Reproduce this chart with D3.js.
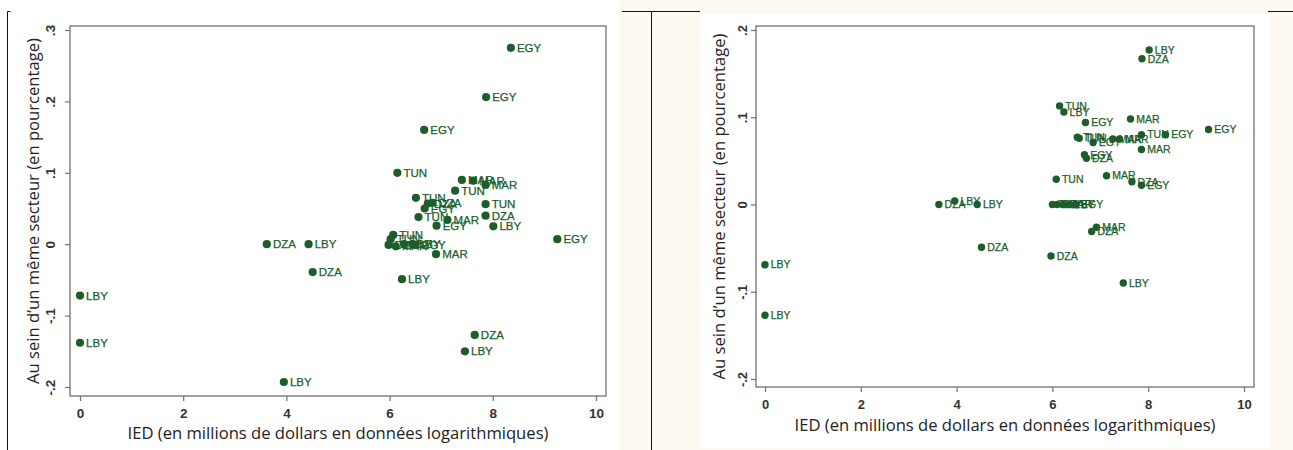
<!DOCTYPE html>
<html>
<head>
<meta charset="utf-8">
<script src="https://cdn.jsdelivr.net/npm/d3@7"></script>
<style>
  html, body { margin: 0; padding: 0; background: #fdfaf2; }
  svg { display: block; }
</style>
</head>
<body>
<svg id="chart"></svg>
<script>
// ---- data ----
const xTicks = [0, 2, 4, 6, 8, 10];
const xTickLabels = ["0", "2", "4", "6", "8", "10"];

const leftYTicks = [0.3, 0.2, 0.1, 0, -0.1, -0.2];
const leftYTickLabels = [".3", ".2", ".1", "0", "-.1", "-.2"];
const rightYTicks = [0.2, 0.1, 0, -0.1, -0.2];
const rightYTickLabels = [".2", ".1", "0", "-.1", "-.2"];

const xTitle = "IED (en millions de dollars en données logarithmiques)";
const yTitle = "Au sein d\u2019un même secteur (en pourcentage)";

// left panel
const leftCountry = ["EGY","EGY","EGY","TUN","MAR","MAR","MAR","TUN","TUN","DZA","DZA","EGY",
  "TUN","MAR","EGY","TUN","DZA","LBY","EGY","TUN","TUN","DZA","MAR","LBY","LBY","EGY",
  "MAR","DZA","LBY","DZA","LBY","LBY","LBY","DZA","LBY","LBY"];
const leftIed = [8.35,7.87,6.67,6.15,7.40,7.62,7.86,7.27,6.51,6.74,6.83,6.68,
  6.56,7.12,6.91,7.86,7.86,8.01,9.25,6.07,6.02,5.98,6.12,6.28,6.45,6.50,
  6.90,3.62,4.43,4.51,6.24,0,0,7.65,7.46,3.95];
const leftShare = [0.275,0.206,0.160,0.100,0.090,0.089,0.083,0.075,0.065,0.057,0.058,0.050,
  0.038,0.034,0.026,0.056,0.040,0.025,0.007,0.013,0.007,-0.001,-0.003,0.000,0.000,-0.001,
  -0.014,0.000,0.000,-0.039,-0.049,-0.072,-0.138,-0.127,-0.150,-0.193];

// right panel
const rightCountry = ["LBY","DZA","TUN","LBY","EGY","MAR","EGY","TUN","EGY","MAR","TUN","TUN",
  "EGY","MAR","MAR","EGY","DZA","TUN","MAR","DZA","EGY","DZA","LBY","LBY",
  "TUN","DZA","MAR","LBY","EGY","MAR","DZA","DZA","DZA","LBY","LBY","LBY"];
const rightIed = [8.02,7.87,6.15,6.24,6.69,7.63,9.26,7.86,8.36,7.86,6.52,6.56,
  6.85,7.26,7.40,6.67,6.71,6.08,7.13,7.66,7.86,3.63,3.96,4.43,
  6.00,6.10,6.22,6.35,6.48,6.92,6.82,4.52,5.97,7.48,0,0];
const rightShare = [0.177,0.167,0.113,0.106,0.094,0.098,0.086,0.080,0.080,0.063,0.077,0.076,
  0.071,0.075,0.075,0.057,0.053,0.029,0.033,0.026,0.022,0.000,0.004,0.000,
  0.000,0.000,0.000,0.000,0.000,-0.026,-0.031,-0.049,-0.059,-0.090,-0.069,-0.127];

// ---- layout ----
const width = 1293, height = 450;
const green = "#1b5e2b";
const frameColor = "#707070";

const panels = [
  {
    country: leftCountry, ied: leftIed, share: leftShare,
    yTicks: leftYTicks, yTickLabels: leftYTickLabels,
    yDomain: [-0.2, 0.3], xRange: [80, 596], yRange: [387, 30],
    frame: { x0: 70, x1: 606, y0: 26, y1: 396 },
    r: 4.1, labelSize: 11.5, tickFont: 13.5,
    yTickBase: 15, xTickBase: 22, xTitleY: 439, yTitleX: 38.5
  },
  {
    country: rightCountry, ied: rightIed, share: rightShare,
    yTicks: rightYTicks, yTickLabels: rightYTickLabels,
    yDomain: [-0.2, 0.2], xRange: [765, 1244], yRange: [379, 30],
    frame: { x0: 756, x1: 1254, y0: 26, y1: 387 },
    r: 3.7, labelSize: 10.5, tickFont: 13,
    yTickBase: 9, xTickBase: 22, xTitleY: 431, yTitleX: 725
  }
];

const svg = d3.select("#chart")
  .attr("width", width)
  .attr("height", height)
  .attr("viewBox", [0, 0, width, height]);

// page background: white chart images on a cream page
svg.append("rect").attr("x", 0).attr("y", 0).attr("width", width).attr("height", height).attr("fill", "#fdfaf2");
svg.append("rect").attr("x", 0).attr("y", 0).attr("width", 620).attr("height", height).attr("fill", "#ffffff");
svg.append("rect").attr("x", 700).attr("y", 14).attr("width", 570).attr("height", 434).attr("fill", "#ffffff");

// page rules
const rules = svg.append("g").attr("stroke", "#111").attr("stroke-width", 1).attr("fill", "none");
rules.append("path").attr("d", "M10.5,11.5 H7.5 V450");
rules.append("path").attr("d", "M622,11.5 H700");
rules.append("path").attr("d", "M651.5,11.5 V450");
rules.append("path").attr("d", "M1268,11.5 H1293");

panels.forEach(p => {
  const x = d3.scaleLinear().domain([0, 10]).range(p.xRange);
  const y = d3.scaleLinear().domain(p.yDomain).range(p.yRange);
  const f = p.frame;

  const g = svg.append("g");

  // plot frame
  g.append("rect")
    .attr("x", f.x0).attr("y", f.y0)
    .attr("width", f.x1 - f.x0).attr("height", f.y1 - f.y0)
    .attr("fill", "#fff")
    .attr("stroke", frameColor)
    .attr("stroke-width", 1.3);

  // x axis
  const xAxis = g.append("g")
    .attr("transform", `translate(0,${f.y1})`)
    .call(d3.axisBottom(x).tickValues(xTicks).tickFormat((d, i) => xTickLabels[i]).tickSize(5).tickSizeOuter(0));
  xAxis.select(".domain").remove();
  xAxis.selectAll("line").attr("stroke", frameColor).attr("stroke-width", 1.2);
  xAxis.selectAll("text")
    .attr("y", p.xTickBase).attr("dy", null)
    .attr("fill", "#333")
    .style("font-family", "'Liberation Sans', Arial, sans-serif")
    .style("font-weight", "bold")
    .style("font-size", p.tickFont + "px");

  // y axis with rotated labels
  const yAxis = g.append("g")
    .attr("transform", `translate(${f.x0},0)`)
    .call(d3.axisLeft(y).tickValues(p.yTicks).tickFormat((d, i) => p.yTickLabels[i]).tickSize(5).tickSizeOuter(0));
  yAxis.select(".domain").remove();
  yAxis.selectAll("line").attr("stroke", frameColor).attr("stroke-width", 1.2);
  yAxis.selectAll("text")
    .attr("x", null).attr("dy", null)
    .attr("text-anchor", "middle")
    .attr("transform", `translate(${-p.yTickBase},0) rotate(-90)`)
    .attr("fill", "#333")
    .style("font-family", "'Liberation Sans', Arial, sans-serif")
    .style("font-weight", "bold")
    .style("font-size", p.tickFont + "px");

  // axis titles, sized so the x title spans ~421px like the original
  const xt = g.append("text")
    .attr("x", (f.x0 + f.x1) / 2)
    .attr("y", p.xTitleY)
    .attr("text-anchor", "middle")
    .attr("fill", "#222")
    .style("font-family", "'Open Sans', 'Noto Sans', sans-serif")
    .style("font-size", "15px")
    .text(xTitle);
  const fs = 15 * 421 / xt.node().getComputedTextLength();
  xt.style("font-size", fs + "px");

  g.append("text")
    .attr("transform", `translate(${p.yTitleX},${(f.y0 + f.y1) / 2}) rotate(-90)`)
    .attr("text-anchor", "middle")
    .attr("fill", "#222")
    .style("font-family", "'Open Sans', 'Noto Sans', sans-serif")
    .style("font-size", fs + "px")
    .text(yTitle);

  // markers and labels
  const idx = d3.range(p.country.length);
  g.append("g")
    .attr("fill", green)
    .selectAll("circle")
    .data(idx)
    .join("circle")
    .attr("cx", i => x(p.ied[i]))
    .attr("cy", i => y(p.share[i]))
    .attr("r", p.r);

  g.append("g")
    .attr("fill", green)
    .attr("stroke", green)
    .attr("stroke-width", 0.25)
    .style("font-family", "'Liberation Sans', Arial, sans-serif")
    .style("font-size", p.labelSize + "px")
    .selectAll("text")
    .data(idx)
    .join("text")
    .attr("x", i => x(p.ied[i]) + p.r + 2)
    .attr("y", i => y(p.share[i]))
    .attr("dy", "0.36em")
    .text(i => p.country[i]);
});
</script>
</body>
</html>
